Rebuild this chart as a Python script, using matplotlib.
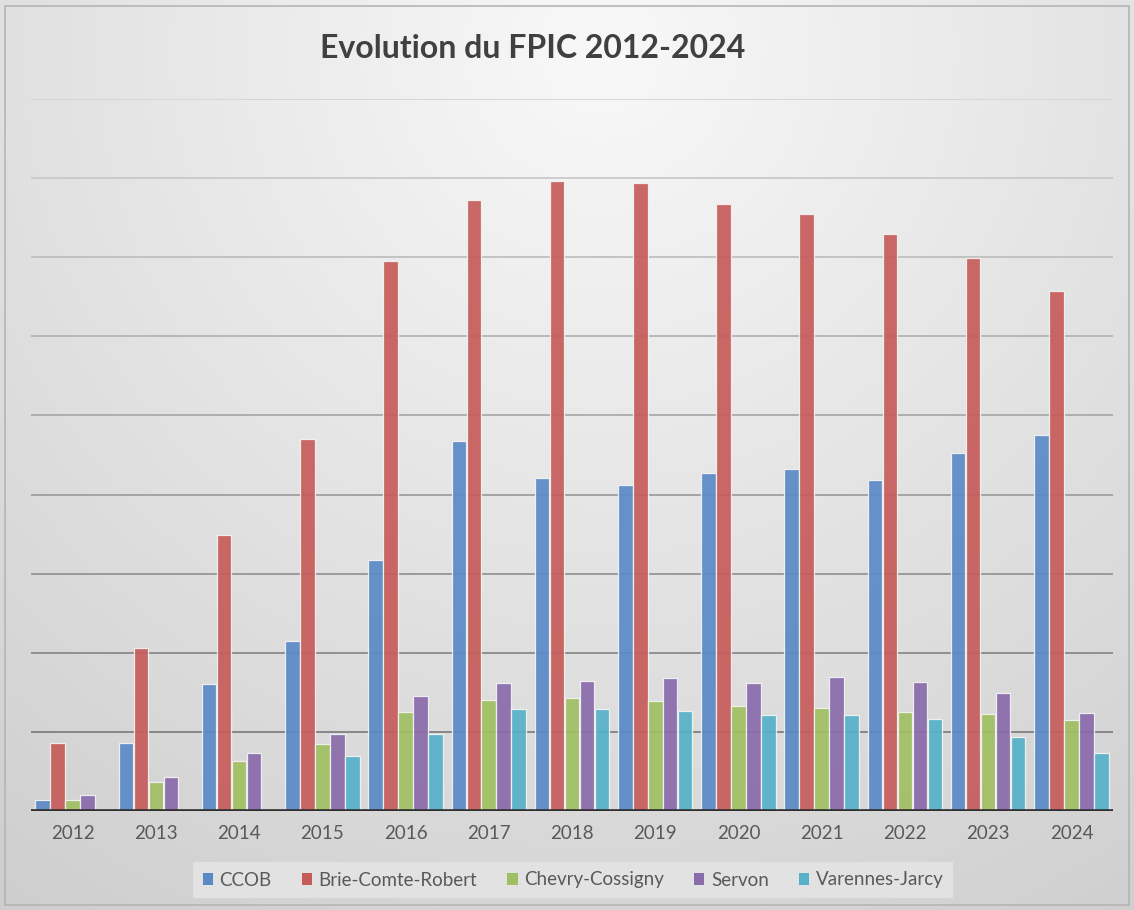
import numpy as np
import matplotlib
matplotlib.use("Agg")
import matplotlib.pyplot as plt
from matplotlib.patches import Rectangle

# values (no y scale shown, units = one gridline step)
years = ["2012", "2013", "2014", "2015", "2016", "2017", "2018",
         "2019", "2020", "2021", "2022", "2023", "2024"]
ccob = [0.14, 0.86, 1.60, 2.15, 3.17, 4.68, 4.21, 4.12, 4.27, 4.32, 4.18, 4.53, 4.75]
brie = [0.86, 2.06, 3.49, 4.70, 6.95, 7.72, 7.96, 7.94, 7.67, 7.55, 7.29, 6.99, 6.57]
chevry = [0.14, 0.37, 0.63, 0.85, 1.25, 1.40, 1.43, 1.39, 1.33, 1.30, 1.25, 1.23, 1.15]
servon = [0.20, 0.43, 0.73, 0.97, 1.45, 1.62, 1.64, 1.68, 1.62, 1.69, 1.63, 1.49, 1.24]
varennes = [0.0, 0.0, 0.0, 0.70, 0.97, 1.29, 1.29, 1.26, 1.21, 1.21, 1.16, 0.94, 0.73]

series = [ccob, brie, chevry, servon, varennes]
names = ["CCOB", "Brie-Comte-Robert", "Chevry-Cossigny", "Servon", "Varennes-Jarcy"]
colors = ["#5a8ac6", "#c65c5a", "#a0bf62", "#8a6bab", "#56b1c9"]

W, H = 1134, 910
fig = plt.figure(figsize=(W / 100, H / 100), dpi=100)
fig.patch.set_facecolor("white")

# background: soft radial gradient inside a thin frame
bg = fig.add_axes([0, 0, 1, 1], zorder=-10)
yy, xx = np.mgrid[0:H, 0:W]
d = np.sqrt((xx - 600.0) ** 2 + (yy - 50.0) ** 2)
L = np.clip(0.975 - 0.16 * d / 1000.0, 0, 1)
img = np.dstack([L, L, L])
bg.imshow(img, extent=(0, W, H, 0), aspect="auto", interpolation="bilinear")
bg.add_patch(Rectangle((5, 6), W - 10, H - 11, fill=False, ec="#b5b5b5", lw=1.2))
bg.set_xlim(0, W)
bg.set_ylim(H, 0)
bg.axis("off")

ax = fig.add_axes([31 / W, (H - 811) / H, 1082 / W, (811 - 99) / H])
ax.set_facecolor("none")

x = np.arange(len(years))
bw = 0.175
for i, (vals, name, c) in enumerate(zip(series, names, colors)):
    ax.bar(x + (i - 2) * 0.18, vals, width=bw, color=c, alpha=0.92,
           edgecolor="#f4f4f4", linewidth=0.9, label=name, zorder=3)

# gridlines, lighter towards the top like the original
for k in range(1, 10):
    g = 0.50 + 0.33 * (k - 1) / 8
    ax.axhline(k, color=(g, g, g), lw=1.3, zorder=2)
ax.axhline(0, color="#2f2f2f", lw=2.6, zorder=4)

ax.set_xlim(-0.5, 12.5)
ax.set_ylim(0, 9)
ax.set_yticks([])
ax.set_xticks(x)
ax.set_xticklabels(years, fontsize=13.5, color="#595959", family="Lato")
ax.tick_params(axis="x", length=0, pad=10)
for s in ax.spines.values():
    s.set_visible(False)

fig.text(533 / W, 1 - 48 / H, "Evolution du FPIC 2012-2024", ha="center", va="center",
         fontsize=23, fontweight="bold", color="#404040", family="Lato")

leg = fig.legend(loc="center", bbox_to_anchor=(573 / W, 1 - 880 / H), ncol=5,
                 frameon=True, handlelength=0.55, handleheight=0.55,
                 handletextpad=0.35, columnspacing=1.6, borderpad=0.5,
                 prop={"family": "Lato", "size": 13.5})
leg.get_frame().set_facecolor("#e4e4e4")
leg.get_frame().set_edgecolor("none")
leg.get_frame().set_alpha(0.9)
leg.get_frame().set_boxstyle("square", pad=0)
for t in leg.get_texts():
    t.set_color("#595959")
for h in leg.legend_handles:
    h.set_alpha(1)
    h.set_edgecolor("none")

fig.savefig("out.png", dpi=100)
